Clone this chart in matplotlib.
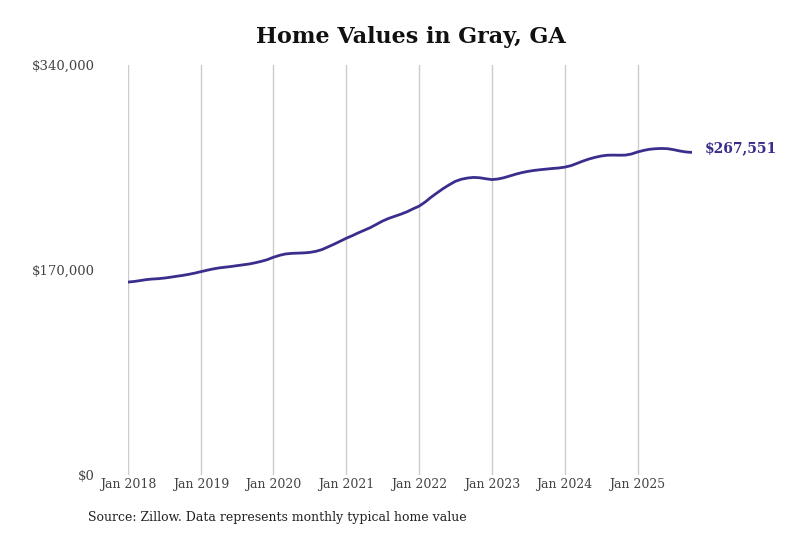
import matplotlib
matplotlib.use("Agg")
import matplotlib.pyplot as plt
import pandas as pd

dates = pd.date_range("2018-01-01", "2025-10-01", freq="MS")
values_k = [
    # 2018
    160.0, 160.5, 161.2, 162.0, 162.5, 162.8, 163.3, 164.0, 164.8, 165.5, 166.4, 167.4,
    # 2019
    168.6, 169.8, 170.8, 171.7, 172.3, 172.9, 173.6, 174.3, 175.0, 176.0, 177.2, 178.6,
    # 2020
    180.6, 182.2, 183.3, 183.8, 184.0, 184.2, 184.6, 185.5, 187.0, 189.2, 191.5, 193.9,
    # 2021
    196.4, 198.6, 200.8, 203.0, 205.2, 207.9, 210.6, 212.8, 214.6, 216.3, 218.3, 220.7,
    # 2022
    223.0, 226.5, 230.3, 234.0, 237.5, 240.7, 243.5, 245.3, 246.3, 246.8, 246.5, 245.7,
    # 2023
    245.0, 245.5, 246.5, 248.0, 249.5, 250.8, 251.8, 252.6, 253.2, 253.7, 254.2, 254.6,
    # 2024
    255.3, 256.5, 258.3, 260.3, 262.0, 263.4, 264.5, 265.2, 265.3, 265.2, 265.3, 266.2,
    # 2025
    267.9, 269.2, 270.1, 270.6, 270.8, 270.6, 269.8, 268.7, 267.9, 267.551,
]
values = [v * 1000 for v in values_k]
yticks = [0, 170000, 340000]
ytick_labels = ["$0", "$170,000", "$340,000"]
xtick_years = list(range(2018, 2026))

title = "Home Values in Gray, GA"
source = "Source: Zillow. Data represents monthly typical home value"
line_color = "#3a2e8c"

plt.rcParams["font.family"] = ["DejaVu Serif"]

fig = plt.figure(figsize=(8, 5.33), dpi=100)
ax = fig.add_axes([0.16, 0.1088, 0.705, 0.7692])

ax.plot(dates, values, color=line_color, lw=2.0, solid_capstyle="round")

ax.set_xlim(dates[0], dates[-1])
ax.set_ylim(0, 340000)
ax.set_yticks(yticks)
ax.set_yticklabels(ytick_labels)
xt = [pd.Timestamp(f"{y}-01-01") for y in xtick_years]
ax.set_xticks(xt)
ax.set_xticklabels([f"Jan {y}" for y in xtick_years])

ax.grid(axis="x", color="#cccccc", lw=1)
ax.grid(axis="y", visible=False)
for s in ax.spines.values():
    s.set_visible(False)
ax.tick_params(axis="both", length=0, labelsize=9, colors="#444444")
ax.tick_params(axis="y", pad=24, labelsize=9.5)
ax.tick_params(axis="x", pad=2)

ax.annotate(f"${values[-1]:,.0f}", xy=(dates[-1], values[-1]), xytext=(9, 3),
            textcoords="offset points", va="center", ha="left",
            color=line_color, fontsize=10, fontweight="bold")

fig.text(0.513, 0.93, title, ha="center", va="center", fontsize=16,
         fontweight="bold", color="#111111")
fig.text(0.11, 0.03, source, ha="left", va="center", fontsize=9, color="#222222")

fig.savefig("out.png", dpi=100)
